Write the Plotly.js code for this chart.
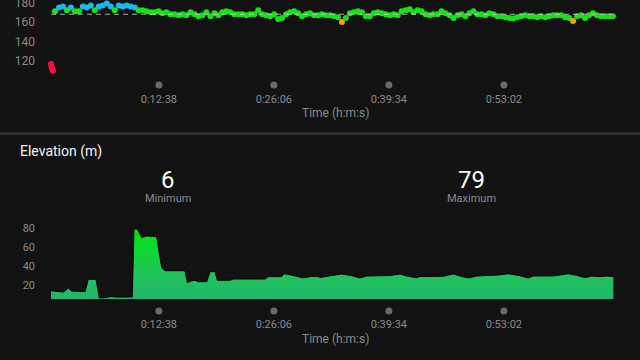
<!DOCTYPE html>
<html><head><meta charset="utf-8">
<script src="https://cdn.plot.ly/plotly-3.0.1.min.js"></script>
<style>html,body{margin:0;padding:0;background:#121212;}#chart{width:640px;height:360px;}</style>
</head><body><div id="chart"></div>
<script>
// ---- Heart rate (bpm) samples, time in seconds ----
const hrTime = [0,4,8,14,
28,56,84,112,140,168,196,224,252,280,
308,336,364,392,420,448,476,504,532,560,
588,616,644,672,700,728,756,784,812,840,
868,896,924,952,980,1008,1036,1064,1092,1120,
1148,1176,1204,1232,1260,1288,1316,1344,1372,1400,
1428,1456,1484,1512,1540,1568,1596,1624,1652,1680,
1708,1736,1764,1792,1820,1848,1876,1904,1932,1960,
1988,2016,2044,2072,2100,2128,2156,2184,2212,2240,
2268,2296,2324,2352,2380,2408,2436,2464,2492,2520,
2548,2576,2604,2632,2660,2688,2716,2744,2772,2800,
2828,2856,2884,2912,2940,2968,2996,3024,3052,3080,
3108,3136,3164,3192,3220,3248,3276,3304,3332,3360,
3388,3416,3444,3472,3500,3528,3556,3584,3612,3640,
3668,3696,3724,3752,3780,3808,3836,3864,3892,3920,
3948];
const hrValue = [117,114,112,110,
171,175,176,172,175,171,171,176,175,177,
172,176,177,179,176,172,177,176,177,176,
175,172,172,171,170,170,171,169,170,168,
168,167,168,167,170,168,166,167,170,166,
169,167,170,171,170,168,168,168,167,168,
168,172,168,167,166,168,163,164,168,170,
171,169,166,168,169,167,167,168,167,167,
166,165,160,164,169,170,171,170,166,166,
169,170,169,168,167,168,167,171,172,173,
170,172,171,168,167,168,168,171,169,167,
164,167,168,166,169,171,168,168,167,169,
168,166,166,165,164,163.5,165,166,167,166,
166,165,166,165,166,167,167,167,165,164,
161,166,167,164,167,169,167,166,166,166,
166];
const hrAverage = 168;

// ---- Elevation (m), time in seconds ----
const elevTime = [0,40,87,122,145,239,262,316,340,368,426,450,571,583,606,637,672,742,778,801,
941,958,988,1012,1035,1094,1117,1152,1169,1258,1281,1504,1527,1621,1637,1679,1773,1820,1867,1890,
1960,2042,2113,2171,2218,2382,2452,2499,2569,2593,2756,2827,2874,2932,2991,3143,3213,3295,3354,3389,
3529,3635,3694,3752,3799,3857,3904,3951];
const elevValue = [14,13.4,12.6,16.8,13.7,13,26,26,6.3,6.5,8,7.3,7.3,79,79,70,71.6,71,38,35,
35,22.5,24.5,25,23.5,23.5,34,34,25,25,26.3,26.3,28.8,28.8,32,30.8,27.4,28.8,29.3,28,
29.5,31.6,29.8,27.4,29.5,29.9,31.6,29.5,27.7,29.1,29.1,31.6,29.5,27.4,29.5,30.5,31.9,29.8,27.4,29.5,
29.5,31.9,30.2,27.7,29.5,28.8,29.5,28.8];

// ---- Axis ticks ----
const timeTickVals = [758,1566,2374,3182];
const timeTickText = ['0:12:38','0:26:06','0:39:34','0:53:02'];
const hrTickVals = [120,140,160,180];
const elevTickVals = [20,40,60,80];

// ---- styling ----
const W = 640, H = 360;
const BG = '#121212';
const GREY = '#8a8a8a';
function zoneColor(v){
  if (v < 130) return '#ff1040';
  if (v < 162) return '#ff9a00';
  if (v > 173.5) return '#1ab8ee';
  return '#19e019';
}
const py = p => 1 - p / H; // pixel row -> paper
const xDom = [40 / W, 630 / W];
const xRange = [-77.3, 4068];

const traces = [
  {x: hrTime, y: hrValue, xaxis: 'x', yaxis: 'y', type: 'scatter', mode: 'markers',
   marker: {size: 6, color: hrValue.map(zoneColor), line: {width: 0}}, hoverinfo: 'skip'},
  {x: [hrTime[0], hrTime[hrTime.length - 1]], y: [hrAverage, hrAverage], xaxis: 'x', yaxis: 'y',
   type: 'scatter', mode: 'lines', line: {color: 'rgba(200,200,200,0.85)', width: 1.2, dash: '5px,4px'}, hoverinfo: 'skip'},
  {x: elevTime, y: elevValue, xaxis: 'x2', yaxis: 'y2', type: 'scatter', mode: 'lines',
   fill: 'tozeroy', line: {color: '#000000', width: 1},
   fillgradient: {type: 'vertical', start: 5.3, stop: 80,
     colorscale: [[0, '#22b56c'], [0.35, '#1fc45a'], [1, '#00e60e']]},
   hoverinfo: 'skip'}
];

const axBase = {showgrid: false, zeroline: false, showline: false, ticks: '', fixedrange: true,
  ticklabeloverflow: 'allow'};
const minElev = Math.round(Math.min(...elevValue));
const maxElev = Math.round(Math.max(...elevValue));

const shapes = [
  {type: 'line', xref: 'paper', yref: 'paper', x0: 0, x1: 1, y0: py(133.5), y1: py(133.5),
   line: {color: '#3a3a3a', width: 2}}
];
timeTickVals.forEach(t => {
  [['x', 85], ['x2', 311]].forEach(([xr, row]) => {
    shapes.push({type: 'circle', xref: xr, yref: 'paper', xsizemode: 'pixel', ysizemode: 'pixel',
      xanchor: t, yanchor: py(row), x0: -3.5, x1: 3.5, y0: -3.5, y1: 3.5,
      fillcolor: '#6a6a6a', line: {width: 0}});
  });
});

const font = 'Roboto, "Liberation Sans", Arial, sans-serif';
function ann(text, xpx, ypx, size, color, xanchor) {
  return {text: text, xref: 'paper', yref: 'paper', x: xpx / W, y: py(ypx),
    xanchor: xanchor || 'center', yanchor: 'middle', showarrow: false,
    font: {size: size, color: color, family: font}};
}
const annotations = [
  ann('Time (h:m:s)', 335, 113, 12, GREY),
  ann('Time (h:m:s)', 335, 339, 12, GREY),
  ann('Elevation (m)', 18, 151, 14, '#f2f2f2', 'left'),
  ann(String(minElev), 168, 180, 24, '#ffffff'),
  ann('Minimum', 168, 198, 11, GREY),
  ann(String(maxElev), 471, 180, 24, '#ffffff'),
  ann('Maximum', 471, 198, 11, GREY)
];

const layout = {
  width: W, height: H, margin: {l: 0, r: 0, t: 0, b: 0},
  paper_bgcolor: BG, plot_bgcolor: BG, showlegend: false,
  font: {family: font, color: GREY},
  xaxis: Object.assign({}, axBase, {domain: xDom, range: xRange, anchor: 'y',
    tickvals: timeTickVals, ticktext: timeTickText, ticklabelstandoff: 11,
    tickfont: {size: 11, color: GREY, family: font}}),
  yaxis: Object.assign({}, axBase, {domain: [py(80), 1], range: [100.5, 182.6], anchor: 'x',
    tickvals: hrTickVals, ticklabelstandoff: 4, tickfont: {size: 12, color: GREY, family: font}}),
  xaxis2: Object.assign({}, axBase, {domain: xDom, range: xRange, anchor: 'y2',
    tickvals: timeTickVals, ticktext: timeTickText, ticklabelstandoff: 17,
    tickfont: {size: 11, color: GREY, family: font}}),
  yaxis2: Object.assign({}, axBase, {domain: [py(299), py(220)], range: [5.26, 88.4], anchor: 'x2',
    tickvals: elevTickVals, ticklabelstandoff: 4, tickfont: {size: 11, color: GREY, family: font}}),
  shapes: shapes,
  annotations: annotations
};

Plotly.newPlot('chart', traces, layout, {displayModeBar: false, staticPlot: true});
</script></body></html>
